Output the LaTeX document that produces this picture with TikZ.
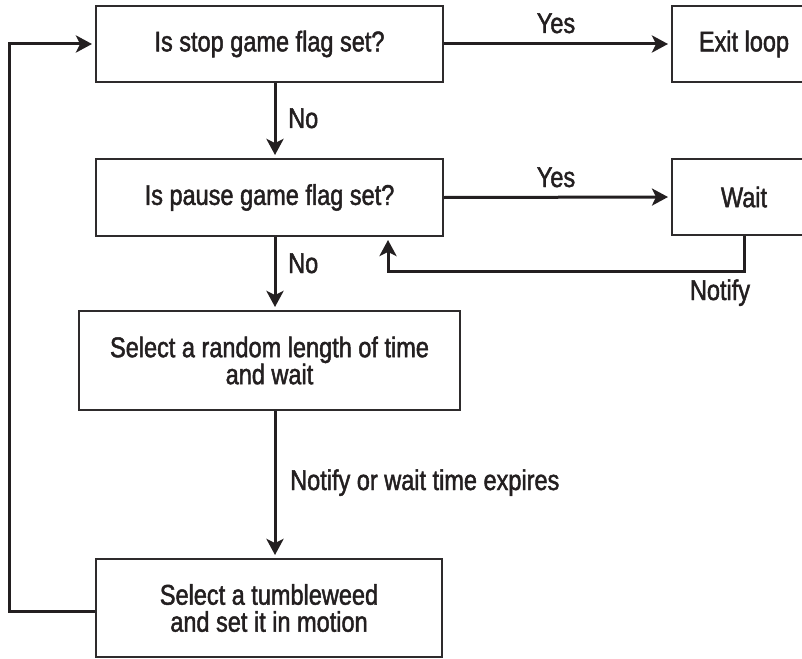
\documentclass[tikz,border=0pt]{standalone}
\usepackage{fontspec}
\setmainfont[FakeStretch=0.825,FakeBold=1.6]{Liberation Sans}
\usetikzlibrary{arrows.meta}
\definecolor{ink}{HTML}{231F20}
\definecolor{boxcol}{HTML}{2E2B2C}
\begin{document}
\begin{tikzpicture}[x=1pt,y=-1pt,
  box/.style={draw=boxcol, line width=2pt, fill=white, inner sep=0pt, align=center,
    text=ink, font=\fontsize{28.5}{27}\selectfont},
  conn/.style={line width=3pt, draw=ink, -{Stealth[length=16pt,width=17pt,inset=4pt]}, shorten >=3pt},
  lbl/.style={font=\fontsize{28.5}{27}\selectfont, inner sep=0pt, text=ink}]
\useasboundingbox (0,0) rectangle (802,658);
% boxes
\node[box, minimum width=347pt, minimum height=76pt] (b1) at (269.5,44) {Is stop game flag set?};
\node[box, minimum width=144pt, minimum height=76pt] (exit) at (744,44) {Exit loop};
\node[box, minimum width=347pt, minimum height=77pt] (b2) at (269.5,197.5) {Is pause game flag set?};
\node[box, minimum width=144pt, minimum height=76pt] (wait) at (744,197) {Wait};
\node[box, minimum width=381pt, minimum height=99pt] (b3) at (269.5,360.5) {Select a random length of time\\and wait};
\node[box, minimum width=346pt, minimum height=98pt] (b4) at (269,608) {Select a tumbleweed\\and set it in motion};
% helper coordinates
\coordinate (cx) at (275,0);
\coordinate (nx) at (388,271);
\coordinate (lx) at (9,611);
% connectors
\draw[conn] (b1.south -| cx) -- (b2.north -| cx);
\draw[conn] (b2.south -| cx) -- (b3.north -| cx);
\draw[conn] (b3.south -| cx) -- (b4.north -| cx);
\draw[conn] (b1.east) -- (exit.west);
\draw[conn] (b2.east) -- (wait.west);
\draw[conn] (wait.south) |- (nx) -- (b2.south -| nx);
\draw[conn] (b4.west |- lx) -- (lx) |- (b1.west);
% labels
\node[lbl, anchor=base] (yes1) at (556,33) {Yes};
\node[lbl, anchor=base] (yes2) at (556,187) {Yes};
\node[lbl, anchor=base west] (no1) at (288,128) {No};
\node[lbl, anchor=base west] (no2) at (288,273) {No};
\node[lbl, anchor=base] (notify) at (720,300) {Notify};
\node[lbl, anchor=base west] (expire) at (290,490) {Notify or wait time expires};
\end{tikzpicture}
\end{document}
